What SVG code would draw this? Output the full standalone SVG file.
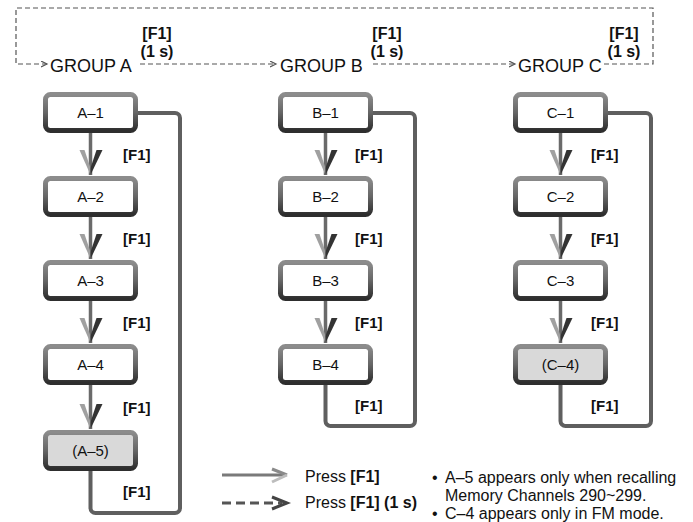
<svg xmlns="http://www.w3.org/2000/svg" width="693" height="522" viewBox="0 0 693 522">
<style>
  text { font-family: "Liberation Sans", Arial, sans-serif; fill: #111; }
  .box { fill: #ffffff; stroke: url(#bevel); stroke-width: 5; }
  .opt { fill: #d9d9d9; }
  .lbl { font-size: 15px; text-anchor: middle; }
  .key { font-size: 15px; font-weight: bold; }
  .top { font-size: 16px; font-weight: bold; text-anchor: middle; }
  .grp { font-size: 18px; }
  .leg { font-size: 16px; }
  .note { font-size: 16px; }
  .dash { fill: none; stroke: #555; stroke-width: 1.2; stroke-dasharray: 5 3; }
  .down { fill: none; stroke: #6a6a6a; stroke-width: 3.5; }
  .loop { fill: none; stroke: #5f5f5f; stroke-width: 4; stroke-linejoin: round; }
</style>
<defs>
  <linearGradient id="bevel" x1="0" y1="0" x2="0" y2="1">
    <stop offset="0" stop-color="#8c8c8c"/>
    <stop offset="0.5" stop-color="#666666"/>
    <stop offset="1" stop-color="#2e2e2e"/>
  </linearGradient>
  <marker id="chev" markerUnits="userSpaceOnUse" markerWidth="8" markerHeight="8" refX="6" refY="3" orient="auto">
    <path d="M0,0 L6,3 L0,6" fill="none" stroke="#555" stroke-width="1.2"/>
  </marker>
  <g id="ah">
    <polygon points="-11,-25 -6,-25 0,-7 0,0" fill="#a0a0a0"/>
    <polygon points="12,-25 6,-25 0,-7 0,0" fill="#333333"/>
  </g>
</defs>

<g id="connectors">
  <path class="dash" d="M604,64 H653 V8 H16 V64 H47" marker-end="url(#chev)"/>
  <path class="dash" d="M140,64 H276" marker-end="url(#chev)"/>
  <path class="dash" d="M373,64 H515" marker-end="url(#chev)"/>

  <line class="down" x1="90.5" y1="133" x2="90.5" y2="175"/>
  <use href="#ah" x="90.5" y="175"/>
  <line class="down" x1="90.5" y1="217" x2="90.5" y2="259"/>
  <use href="#ah" x="90.5" y="259"/>
  <line class="down" x1="90.5" y1="301" x2="90.5" y2="343"/>
  <use href="#ah" x="90.5" y="343"/>
  <line class="down" x1="90.5" y1="385" x2="90.5" y2="429"/>
  <use href="#ah" x="90.5" y="429"/>
  <path class="loop" d="M138,113 H175 A5,5 0 0 1 180,118 V508 A5,5 0 0 1 175,513 H95.5 A5,5 0 0 1 90.5,508 V471"/>

  <line class="down" x1="325.5" y1="133" x2="325.5" y2="175"/>
  <use href="#ah" x="325.5" y="175"/>
  <line class="down" x1="325.5" y1="217" x2="325.5" y2="259"/>
  <use href="#ah" x="325.5" y="259"/>
  <line class="down" x1="325.5" y1="301" x2="325.5" y2="343"/>
  <use href="#ah" x="325.5" y="343"/>
  <path class="loop" d="M373,113 H410 A5,5 0 0 1 415,118 V421 A5,5 0 0 1 410,426 H330.5 A5,5 0 0 1 325.5,421 V385"/>

  <line class="down" x1="560.5" y1="133" x2="560.5" y2="175"/>
  <use href="#ah" x="560.5" y="175"/>
  <line class="down" x1="560.5" y1="217" x2="560.5" y2="259"/>
  <use href="#ah" x="560.5" y="259"/>
  <line class="down" x1="560.5" y1="301" x2="560.5" y2="343"/>
  <use href="#ah" x="560.5" y="343"/>
  <path class="loop" d="M608,113 H646 A5,5 0 0 1 651,118 V421 A5,5 0 0 1 646,426 H565.5 A5,5 0 0 1 560.5,421 V385"/>

  <text class="top" x="157" y="39">[F1]</text>
  <text class="top" x="157" y="57">(1 s)</text>
  <text class="top" x="387" y="39">[F1]</text>
  <text class="top" x="387" y="57">(1 s)</text>
  <text class="top" x="624" y="39">[F1]</text>
  <text class="top" x="624" y="57">(1 s)</text>

  <text class="key" x="123" y="160">[F1]</text>
  <text class="key" x="123" y="244">[F1]</text>
  <text class="key" x="123" y="328">[F1]</text>
  <text class="key" x="123" y="413">[F1]</text>
  <text class="key" x="123" y="497">[F1]</text>

  <text class="key" x="355" y="160">[F1]</text>
  <text class="key" x="355" y="244">[F1]</text>
  <text class="key" x="355" y="328">[F1]</text>
  <text class="key" x="355" y="411">[F1]</text>

  <text class="key" x="591" y="160">[F1]</text>
  <text class="key" x="591" y="244">[F1]</text>
  <text class="key" x="591" y="328">[F1]</text>
  <text class="key" x="591" y="411">[F1]</text>
</g>

<g id="groupA"><text class="grp" x="50" y="72">GROUP A</text></g>
<g id="groupB"><text class="grp" x="280" y="72">GROUP B</text></g>
<g id="groupC"><text class="grp" x="518" y="72">GROUP C</text></g>

<g id="A1"><rect class="box" x="45.5" y="94.5" width="90" height="36" rx="5"/><text class="lbl" x="90.5" y="118">A–1</text></g>
<g id="A2"><rect class="box" x="45.5" y="178.5" width="90" height="36" rx="5"/><text class="lbl" x="90.5" y="202">A–2</text></g>
<g id="A3"><rect class="box" x="45.5" y="262.5" width="90" height="36" rx="5"/><text class="lbl" x="90.5" y="286">A–3</text></g>
<g id="A4"><rect class="box" x="45.5" y="346.5" width="90" height="36" rx="5"/><text class="lbl" x="90.5" y="370">A–4</text></g>
<g id="A5"><rect class="box opt" x="45.5" y="432.5" width="90" height="36" rx="5"/><text class="lbl" x="90.5" y="456">(A–5)</text></g>

<g id="B1"><rect class="box" x="280.5" y="94.5" width="90" height="36" rx="5"/><text class="lbl" x="325.5" y="118">B–1</text></g>
<g id="B2"><rect class="box" x="280.5" y="178.5" width="90" height="36" rx="5"/><text class="lbl" x="325.5" y="202">B–2</text></g>
<g id="B3"><rect class="box" x="280.5" y="262.5" width="90" height="36" rx="5"/><text class="lbl" x="325.5" y="286">B–3</text></g>
<g id="B4"><rect class="box" x="280.5" y="346.5" width="90" height="36" rx="5"/><text class="lbl" x="325.5" y="370">B–4</text></g>

<g id="C1"><rect class="box" x="515.5" y="94.5" width="90" height="36" rx="5"/><text class="lbl" x="560.5" y="118">C–1</text></g>
<g id="C2"><rect class="box" x="515.5" y="178.5" width="90" height="36" rx="5"/><text class="lbl" x="560.5" y="202">C–2</text></g>
<g id="C3"><rect class="box" x="515.5" y="262.5" width="90" height="36" rx="5"/><text class="lbl" x="560.5" y="286">C–3</text></g>
<g id="C4"><rect class="box opt" x="515.5" y="346.5" width="90" height="36" rx="5"/><text class="lbl" x="560.5" y="370">(C–4)</text></g>

<g id="legend">
  <line x1="222" y1="475" x2="285" y2="475" stroke="#7a7a7a" stroke-width="3"/>
  <path d="M272,469 L287,475" stroke="#8a8a8a" stroke-width="3" fill="none"/>
  <path d="M287,475 L272,482" stroke="#bdbdbd" stroke-width="3" fill="none"/>
  <text class="leg" x="305" y="482">Press <tspan font-weight="bold">[F1]</tspan></text>
  <line x1="222" y1="503" x2="282" y2="503" stroke="#555" stroke-width="3" stroke-dasharray="9 5"/>
  <path d="M272,497 L287,503 L272,509" stroke="#444" stroke-width="3" fill="none"/>
  <text class="leg" x="305" y="508">Press <tspan font-weight="bold">[F1] (1 s)</tspan></text>
</g>

<g id="notes">
  <text class="note" x="432" y="483">•</text>
  <text class="note" x="445" y="483">A–5 appears only when recalling</text>
  <text class="note" x="445" y="501">Memory Channels 290~299.</text>
  <text class="note" x="432" y="519">•</text>
  <text class="note" x="445" y="519">C–4 appears only in FM mode.</text>
</g>
</svg>
